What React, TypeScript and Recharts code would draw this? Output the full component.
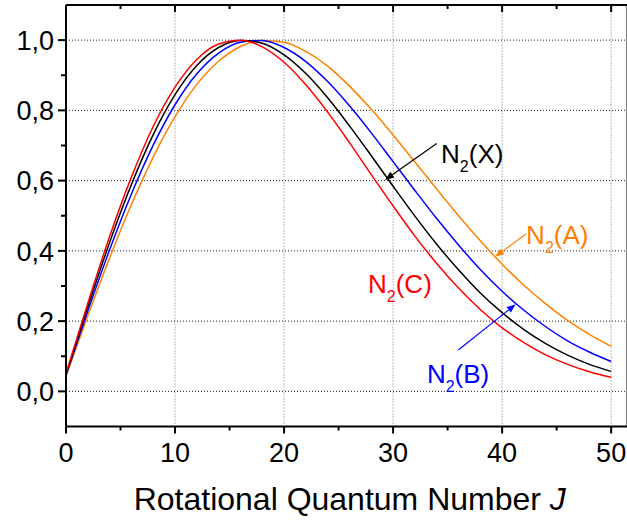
import { Line, LineChart, ReferenceDot, ReferenceLine, XAxis, YAxis } from 'recharts';

// rotational quantum number J
const jValues = [0, 2, 4, 6, 8, 10, 12, 14, 16, 18, 20, 22, 24, 26, 28, 30, 32, 34, 36, 38, 40, 42, 44, 46, 48, 50];

// normalised populations
const n2X = [0.049, 0.241, 0.424, 0.589, 0.731, 0.845, 0.928, 0.979, 0.999, 0.991, 0.958, 0.905, 0.836, 0.756, 0.671, 0.584, 0.499, 0.419, 0.346, 0.28, 0.224, 0.176, 0.136, 0.103, 0.077, 0.057];
const n2A = [0.043, 0.215, 0.38, 0.532, 0.667, 0.782, 0.874, 0.94, 0.982, 0.999, 0.994, 0.968, 0.926, 0.869, 0.803, 0.73, 0.653, 0.576, 0.5, 0.429, 0.362, 0.302, 0.249, 0.202, 0.162, 0.128];
const n2B = [0.046, 0.229, 0.403, 0.562, 0.701, 0.816, 0.904, 0.963, 0.994, 0.999, 0.979, 0.939, 0.882, 0.813, 0.736, 0.654, 0.572, 0.492, 0.417, 0.347, 0.285, 0.231, 0.184, 0.144, 0.112, 0.085];
const n2C = [0.051, 0.251, 0.441, 0.61, 0.754, 0.866, 0.945, 0.989, 1.0, 0.981, 0.937, 0.873, 0.795, 0.708, 0.617, 0.528, 0.442, 0.364, 0.294, 0.233, 0.181, 0.139, 0.104, 0.077, 0.056, 0.04];

const xTicks = [0, 5, 10, 15, 20, 25, 30, 35, 40, 45, 50];
const yTicks = [0, 0.1, 0.2, 0.3, 0.4, 0.5, 0.6, 0.7, 0.8, 0.9, 1.0];
const xGrid = [10, 20, 30, 40, 50];
const yGrid = [0, 0.2, 0.4, 0.6, 0.8, 1.0];

const data = jValues.map((j, i) => ({ j, x: n2X[i], a: n2A[i], b: n2B[i], c: n2C[i] }));

const FONT = '"Liberation Sans", Arial, Helvetica, sans-serif';
const ORANGE = '#ff8000';
const BLUE = '#0000ff';
const RED = '#ff0000';

const isMajorX = (v: number) => v % 10 === 0;
const isMajorY = (v: number) => Math.round(v * 10) % 2 === 0;

function BottomTick({ x, y, payload }: any) {
  const major = isMajorX(payload.value);
  return (
    <g>
      <line x1={x} x2={x} y1={y} y2={y + (major ? 7 : 4)} stroke="#000" strokeWidth={2} />
      {major && (
        <text x={x} y={y + 35} textAnchor="middle" fontSize={27} fontFamily={FONT} fill="#000">
          {payload.value}
        </text>
      )}
    </g>
  );
}

function TopTick({ x, y, payload }: any) {
  const major = isMajorX(payload.value);
  return <line x1={x} x2={x} y1={y} y2={y + (major ? 7 : 4)} stroke="#000" strokeWidth={2} />;
}

function LeftTick({ x, y, payload }: any) {
  const major = isMajorY(payload.value);
  return (
    <g>
      <line x1={x - (major ? 8 : 5)} x2={x} y1={y} y2={y} stroke="#000" strokeWidth={2} />
      {major && (
        <text x={x - 12} y={y} dy="0.36em" textAnchor="end" fontSize={27} fontFamily={FONT} fill="#000">
          {payload.value.toFixed(1).replace('.', ',')}
        </text>
      )}
    </g>
  );
}

function RightTick({ x, y, payload }: any) {
  const major = isMajorY(payload.value);
  return <line x1={x - (major ? 8 : 5)} x2={x} y1={y} y2={y} stroke="#000" strokeWidth={2} />;
}

function AxisTitle({ viewBox }: any) {
  const { x, y, width } = viewBox;
  return (
    <text x={x + width / 2 + 3} y={y + 83.5} textAnchor="middle" fontSize={32} fontFamily={FONT} fill="#000">
      Rotational Quantum Number <tspan fontStyle="italic">J</tspan>
    </text>
  );
}

const seriesLabel = (state: string, color: string) => (props: any) => (
  <text x={props.cx} y={props.cy} fill={color} fontSize={26} fontFamily={FONT}>
    N
    <tspan fontSize={16} dy={9}>
      2
    </tspan>
    <tspan dy={-9}>({state})</tspan>
  </text>
);

const arrow = (color: string) => (props: any) => {
  const { x1, y1, x2, y2 } = props;
  const ang = Math.atan2(y2 - y1, x2 - x1);
  const c = Math.cos(ang);
  const s = Math.sin(ang);
  const bx = x2 - 9 * c;
  const by = y2 - 9 * s;
  const pts = `${x2},${y2} ${bx - 3.5 * s},${by + 3.5 * c} ${bx + 3.5 * s},${by - 3.5 * c}`;
  return (
    <g>
      <line x1={x1} y1={y1} x2={bx} y2={by} stroke={color} strokeWidth={1.2} />
      <polygon points={pts} fill={color} />
    </g>
  );
};

const axisLine = { stroke: '#000', strokeWidth: 2 };

export default function App() {
  return (
    <div style={{ position: 'absolute', left: 0, top: 0, width: 627, height: 520, overflow: 'hidden', background: '#fff' }}>
      <LineChart width={640} height={520} data={data} margin={{ top: 0, right: 0, bottom: 0, left: 0 }}>
        <XAxis
          xAxisId="t"
          orientation="top"
          type="number"
          dataKey="j"
          domain={[0, 51.5]}
          ticks={xTicks}
          interval={0}
          height={5}
          tick={TopTick}
          tickLine={false}
          tickSize={0}
          tickMargin={0}
          axisLine={axisLine}
        />
        <XAxis
          xAxisId="b"
          orientation="bottom"
          type="number"
          dataKey="j"
          domain={[0, 51.5]}
          ticks={xTicks}
          interval={0}
          height={93.5}
          tick={BottomTick}
          tickLine={false}
          tickSize={0}
          tickMargin={0}
          axisLine={axisLine}
          label={{ content: AxisTitle }}
        />
        <YAxis
          yAxisId="l"
          orientation="left"
          type="number"
          domain={[-0.1, 1.1]}
          ticks={yTicks}
          interval={0}
          width={66}
          tick={LeftTick}
          tickLine={false}
          tickSize={0}
          tickMargin={0}
          axisLine={axisLine}
        />
        <YAxis
          yAxisId="r"
          orientation="right"
          type="number"
          domain={[-0.1, 1.1]}
          ticks={yTicks}
          interval={0}
          width={12.5}
          tick={RightTick}
          tickLine={false}
          tickSize={0}
          tickMargin={0}
          axisLine={axisLine}
        />

        {xGrid.map((v) => (
          <ReferenceLine key={`gx${v}`} xAxisId="b" yAxisId="l" x={v} stroke="#777" strokeDasharray="1 2" />
        ))}
        {yGrid.map((v) => (
          <ReferenceLine key={`gy${v}`} xAxisId="b" yAxisId="l" y={v} stroke="#222" strokeDasharray="1 2" />
        ))}

        <Line xAxisId="b" yAxisId="l" type="monotone" dataKey="a" stroke={ORANGE} strokeWidth={1.5} dot={false} isAnimationActive={false} />
        <Line xAxisId="b" yAxisId="l" type="monotone" dataKey="b" stroke={BLUE} strokeWidth={1.5} dot={false} isAnimationActive={false} />
        <Line xAxisId="b" yAxisId="l" type="monotone" dataKey="x" stroke="#000" strokeWidth={1.5} dot={false} isAnimationActive={false} />
        <Line xAxisId="b" yAxisId="l" type="monotone" dataKey="c" stroke={RED} strokeWidth={1.5} dot={false} isAnimationActive={false} />

        <ReferenceLine xAxisId="b" yAxisId="l" segment={[{ x: 34.0, y: 0.706 }, { x: 29.26, y: 0.602 }]} shape={arrow('#000')} />
        <ReferenceLine xAxisId="b" yAxisId="l" segment={[{ x: 42.19, y: 0.448 }, { x: 39.35, y: 0.383 }]} shape={arrow(ORANGE)} />
        <ReferenceLine xAxisId="b" yAxisId="l" segment={[{ x: 35.98, y: 0.118 }, { x: 41.25, y: 0.248 }]} shape={arrow(BLUE)} />

        <ReferenceDot xAxisId="b" yAxisId="l" x={34.4} y={0.649} shape={seriesLabel('X', '#000')} />
        <ReferenceDot xAxisId="b" yAxisId="l" x={42.2} y={0.42} shape={seriesLabel('A', ORANGE)} />
        <ReferenceDot xAxisId="b" yAxisId="l" x={27.7} y={0.279} shape={seriesLabel('C', RED)} />
        <ReferenceDot xAxisId="b" yAxisId="l" x={33.1} y={0.023} shape={seriesLabel('B', BLUE)} />
      </LineChart>
    </div>
  );
}
